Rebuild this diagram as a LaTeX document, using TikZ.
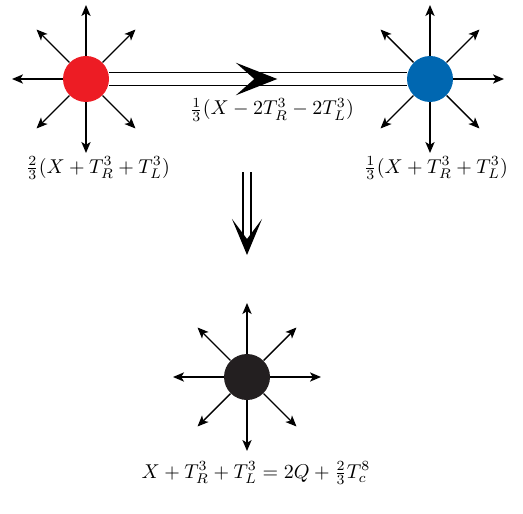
\documentclass[tikz,border=0pt]{standalone}
\usepackage{amsmath}
\usepackage{amssymb}
\usepackage{tikz}
\usepackage{xcolor}
\usetikzlibrary{arrows.meta,calc,decorations.markings}

\definecolor{quarkred}{RGB}{237,28,36}
\definecolor{quarkblue}{RGB}{0,103,177}
\definecolor{quarkblack}{RGB}{35,31,32}

\begin{document}
\begin{tikzpicture}[x=0.5pt, y=0.5pt,
  charge/.style={circle, minimum size=23pt, inner sep=0pt},
  ray/.style={line width=0.7pt, -{Stealth[length=5.5pt,width=4.6pt,inset=1.4pt]}},
  flow/.style={double, double distance=5.8pt, line width=0.6pt}]
\useasboundingbox (0,0) rectangle (523,-513);

\node[charge, fill=quarkred] (red) at (86,-79) {};
\node[charge, fill=quarkblue] (blue) at (430,-79) {};
\node[charge, fill=quarkblack] (black) at (247,-377) {};

\foreach \a/\l in {45/70,90/74,135/70,180/74,225/70,270/74,315/70}
{
  \coordinate (red-\a) at ($(red.center)+(\a:\l)$);
  \draw[ray] (red) -- (red-\a);
}
\foreach \a/\l in {0/74,45/70,90/74,135/70,225/70,270/74,315/70}
{
  \coordinate (blue-\a) at ($(blue.center)+(\a:\l)$);
  \draw[ray] (blue) -- (blue-\a);
}
\foreach \a/\l in {0/74,45/70,90/74,135/70,180/74,225/70,270/74,315/70}
{
  \coordinate (black-\a) at ($(black.center)+(\a:\l)$);
  \draw[ray] (black) -- (black-\a);
}

\draw[flow, postaction={decorate},
      decoration={markings,
        mark=at position 0.565 with {\arrow{Stealth[length=20.5pt,width=16pt,inset=9pt]}}}]
  (red) -- (blue);

\coordinate (implytop) at (247,-172);
\coordinate (implybot) at (247,-255);
\draw[double, double distance=3.4pt, line width=0.6pt,
      -{Stealth[length=18pt,width=15pt,inset=10pt]}]
  (implytop) -- (implybot);

\node (redlabel) at (98,-168) {$\frac{2}{3}(X+T_R^3+T_L^3)$};
\node (bluelabel) at (436,-168) {$\frac{1}{3}(X+T_R^3+T_L^3)$};
\node (flowlabel) at (272,-110) {$\frac{1}{3}(X-2T_R^3-2T_L^3)$};
\node (sumlabel) at (256,-473) {$X+T_R^3+T_L^3=2Q+\frac{2}{3}T_c^8$};
\end{tikzpicture}
\end{document}
